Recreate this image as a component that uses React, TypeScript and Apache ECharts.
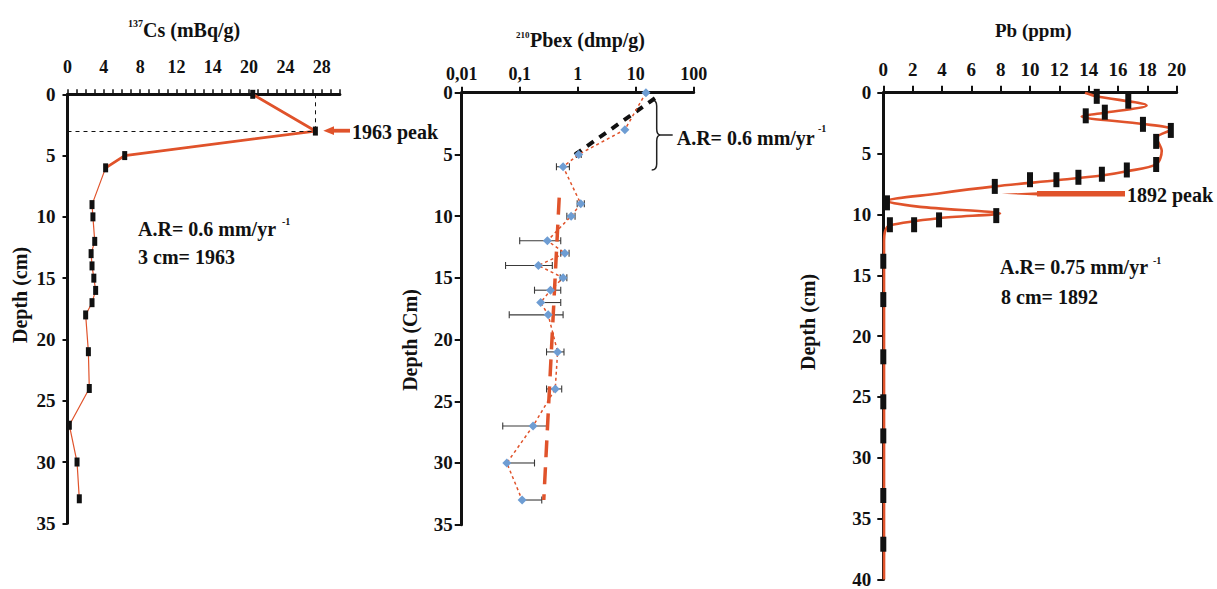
import React, { useEffect, useRef } from "react";
import * as echarts from "echarts";

// ---------- Panel 1 : 137Cs ----------
const csDepth = [0, 3, 5, 6, 9, 10, 12, 13, 14, 15, 16, 17, 18, 21, 24, 27, 30, 33];
const csValue = [20.4, 27.3, 6.3, 4.2, 2.7, 2.8, 3.0, 2.6, 2.7, 2.9, 3.1, 2.7, 2.0, 2.3, 2.4, 0.2, 1.05, 1.3];
const csTickLabels = ["0", "4", "8", "12", "14", "20", "24", "28"];
const csPeakDepth = 3.05;
const csPeakValue = 27.3;

// ---------- Panel 2 : 210Pbex ----------
const pbDepth = [0, 3, 5, 6, 9, 10, 12, 13, 14, 15, 16, 17, 18, 21, 24, 27, 30, 33];
const pbValue = [15, 6.5, 1.04, 0.56, 1.13, 0.77, 0.3, 0.6, 0.21, 0.56, 0.34, 0.23, 0.31, 0.45, 0.41, 0.17, 0.06, 0.11];
const pbErrLow = [15, 6.5, 0.95, 0.43, 0.98, 0.65, 0.1, 0.51, 0.057, 0.5, 0.18, 0.23, 0.066, 0.29, 0.29, 0.051, 0.06, 0.11];
const pbErrHigh = [15, 6.5, 1.15, 0.72, 1.3, 0.9, 0.51, 0.71, 0.365, 0.65, 0.51, 0.51, 0.56, 0.58, 0.53, 0.29, 0.18, 0.24];
const pbLogTickLabels = ["0,01", "0,1", "1", "10", "100"];
const fitUpperValue = [21.5, 0.735];
const fitUpperDepth = [0.45, 5.3];
const fitLowerValue = [0.48, 0.26];
const fitLowerDepth = [8.5, 33];

// ---------- Panel 3 : Pb ----------
const leadDepth = [0.3, 0.7, 1.6, 1.9, 2.6, 3.1, 4.0, 5.9, 6.35, 6.7, 6.95, 7.15, 7.15, 7.7, 9.05, 10.1, 10.45, 10.85, 10.85, 13.85, 17, 21.7, 25.4, 28.2, 33.1, 37.1];
const leadValue = [14.55, 16.7, 15.1, 13.8, 17.7, 19.6, 18.6, 18.6, 16.6, 14.9, 13.3, 11.8, 10.0, 7.6, 0.25, 7.7, 3.8, 2.1, 0.45, 0, 0, 0, 0, 0, 0, 0];
const leadCurveDepth = [0, 0.3, 1.05, 1.67, 1.95, 2.57, 3.02, 3.7, 4.78, 5.86, 6.46, 6.81, 7.2, 7.7, 8.3, 8.9, 9.38, 9.92, 10.3, 10.9, 11.4, 12.4, 40];
const leadCurveValue = [13.75, 14.55, 17.95, 15.0, 13.52, 17.7, 19.66, 18.63, 18.98, 18.63, 16.6, 14.89, 11.82, 7.6, 3.64, 0.23, 2.5, 7.96, 3.87, 0.45, 0.12, 0.05, 0.05];

const RED = "#E0532B";
const BLUE = "#6E9DD3";
const INK = "#111111";
const FAMILY = "Liberation Serif";

const font = (size: number) => `bold ${size}px ${FAMILY}`;

function txt(x: number, y: number, text: string, size: number, extra: any = {}) {
  return {
    type: "text",
    x,
    y,
    silent: true,
    ...extra,
    style: {
      text,
      font: font(size),
      fill: INK,
      align: "left",
      verticalAlign: "middle",
      textAlign: "left",
      textVerticalAlign: "middle",
      ...(extra.style || {}),
    },
  };
}

function depthLabel(x: number, y: number, text: string) {
  return {
    type: "text",
    x,
    y,
    rotation: Math.PI / 2,
    silent: true,
    style: {
      text,
      font: font(20),
      fill: INK,
      align: "center",
      verticalAlign: "middle",
      textAlign: "center",
      textVerticalAlign: "middle",
    },
  };
}

export default function App() {
  const ref = useRef<HTMLDivElement>(null);

  useEffect(() => {
    if (!ref.current) return;
    try {
      echarts.graphic.registerShape(
        "brace",
        echarts.graphic.extendPath(
          "M0,0 C4,0 5,2 5,6 L5,29 C5,33 6,35 9,35 C6,35 5,37 5,41 L5,64 C5,68 4,70 0,70 M9,35 L21,35",
          {}
        )
      );
    } catch (e) {
      /* already registered */
    }
    const chart = echarts.init(ref.current, null, { renderer: "svg" });

    const axisLine = { show: true, onZero: false, lineStyle: { color: INK, width: 3 } };
    const labelBase = { fontFamily: FAMILY, fontWeight: "bold", color: INK };

    const option: any = {
      animation: false,
      backgroundColor: "#ffffff",
      textStyle: { fontFamily: FAMILY },
      grid: [
        { left: 67.5, top: 94.3, width: 272.4, height: 429 },
        { left: 461.7, top: 92.7, width: 232, height: 432 },
        { left: 883.3, top: 92.7, width: 293.4, height: 493 },
      ],
      xAxis: [
        {
          gridIndex: 0,
          type: "value",
          position: "top",
          min: 0,
          max: 30,
          interval: 1,
          axisLine,
          axisTick: { show: true, length: 5, lineStyle: { color: INK, width: 1.5 } },
          axisLabel: {
            ...labelBase,
            fontSize: 18,
            margin: 18,
            formatter: (v: number) => (v % 4 === 0 ? csTickLabels[v / 4] ?? "" : ""),
          },
          splitLine: { show: false },
        },
        {
          gridIndex: 1,
          type: "log",
          logBase: 10,
          position: "top",
          min: 0.01,
          max: 100,
          axisLine,
          axisTick: { show: true, length: 6, lineStyle: { color: INK, width: 2 } },
          axisLabel: {
            ...labelBase,
            fontSize: 18,
            margin: 10,
            formatter: (v: number) => pbLogTickLabels[Math.round(Math.log10(v)) + 2] ?? "",
          },
          splitLine: { show: false },
          minorTick: { show: false },
        },
        {
          gridIndex: 2,
          type: "value",
          position: "top",
          min: 0,
          max: 20,
          interval: 2,
          axisLine,
          axisTick: { show: true, length: 7, lineStyle: { color: INK, width: 2 } },
          axisLabel: { ...labelBase, fontSize: 19, margin: 14 },
          splitLine: { show: false },
        },
      ],
      yAxis: [
        {
          gridIndex: 0,
          type: "value",
          inverse: true,
          min: 0,
          max: 35,
          interval: 5,
          axisLine,
          axisTick: { show: true, length: 5, lineStyle: { color: INK, width: 2 } },
          axisLabel: { ...labelBase, fontSize: 19, margin: 12 },
          splitLine: { show: false },
        },
        {
          gridIndex: 1,
          type: "value",
          inverse: true,
          min: 0,
          max: 35,
          interval: 5,
          axisLine,
          axisTick: { show: true, length: 7, lineStyle: { color: INK, width: 2 } },
          axisLabel: { ...labelBase, fontSize: 19, margin: 9 },
          splitLine: { show: false },
        },
        {
          gridIndex: 2,
          type: "value",
          inverse: true,
          min: 0,
          max: 40,
          interval: 5,
          axisLine,
          axisTick: { show: true, length: 6, lineStyle: { color: INK, width: 2 } },
          axisLabel: { ...labelBase, fontSize: 19, margin: 12 },
          splitLine: { show: false },
        },
      ],
      series: [
        // ---- Cs ----
        {
          type: "line",
          xAxisIndex: 0,
          yAxisIndex: 0,
          data: csDepth.slice(0, 4).map((d, i) => [csValue[i], d]),
          symbol: "none",
          lineStyle: { color: RED, width: 2.8 },
          z: 2,
        },
        {
          type: "line",
          xAxisIndex: 0,
          yAxisIndex: 0,
          data: csDepth.map((d, i) => [csValue[i], d]),
          symbol: "rect",
          symbolSize: [5, 9],
          itemStyle: { color: INK, opacity: 1 },
          lineStyle: { color: RED, width: 1.2 },
          z: 3,
          markLine: {
            silent: true,
            symbol: "none",
            animation: false,
            label: { show: false },
            lineStyle: { color: INK, width: 1, type: [4, 4] },
            data: [
              [{ coord: [0, csPeakDepth] }, { coord: [csPeakValue, csPeakDepth] }],
              [{ coord: [csPeakValue, 0] }, { coord: [csPeakValue, csPeakDepth] }],
            ],
          },
        },
        // ---- 210Pbex ----
        {
          type: "custom",
          xAxisIndex: 1,
          yAxisIndex: 1,
          data: pbDepth.map((d, i) => [pbErrLow[i], pbErrHigh[i], d, pbValue[i]]),
          encode: { x: [0, 1], y: 2 },
          z: 2,
          renderItem: (params: any, api: any) => {
            const lo = api.value(0);
            const hi = api.value(1);
            const d = api.value(2);
            const v = api.value(3);
            if (hi - lo <= 0) return { type: "group", children: [] };
            const p0 = api.coord([lo, d]);
            const p1 = api.coord([hi, d]);
            const st = { stroke: "#3a3a3a", lineWidth: 1.1 };
            const children: any[] = [
              { type: "line", shape: { x1: p0[0], y1: p0[1], x2: p1[0], y2: p1[1] }, style: st },
            ];
            if (lo < v) children.push({ type: "line", shape: { x1: p0[0], y1: p0[1] - 3.5, x2: p0[0], y2: p0[1] + 3.5 }, style: st });
            if (hi > v) children.push({ type: "line", shape: { x1: p1[0], y1: p1[1] - 3.5, x2: p1[0], y2: p1[1] + 3.5 }, style: st });
            return { type: "group", children };
          },
        },
        {
          type: "line",
          xAxisIndex: 1,
          yAxisIndex: 1,
          data: fitUpperDepth.map((d, i) => [fitUpperValue[i], d]),
          symbol: "none",
          lineStyle: { color: INK, width: 4, type: [8, 7] },
          z: 3,
        },
        {
          type: "line",
          xAxisIndex: 1,
          yAxisIndex: 1,
          data: fitLowerDepth.map((d, i) => [fitLowerValue[i], d]),
          symbol: "none",
          lineStyle: { color: RED, width: 3.5, type: [17, 10] },
          z: 3,
        },
        {
          type: "line",
          xAxisIndex: 1,
          yAxisIndex: 1,
          data: pbDepth.map((d, i) => [pbValue[i], d]),
          symbol: "diamond",
          symbolSize: 9,
          itemStyle: { color: BLUE, opacity: 1 },
          lineStyle: { color: RED, width: 1.5, type: [3, 3] },
          z: 4,
        },
        // ---- Pb ----
        {
          type: "line",
          xAxisIndex: 2,
          yAxisIndex: 2,
          data: leadCurveDepth.map((d, i) => [leadCurveValue[i], d]),
          symbol: "none",
          smooth: 0.3,
          lineStyle: { color: RED, width: 2.6 },
          z: 2,
        },
        {
          type: "scatter",
          xAxisIndex: 2,
          yAxisIndex: 2,
          data: leadDepth.map((d, i) => [leadValue[i], d]),
          symbol: "rect",
          symbolSize: [6, 15],
          itemStyle: { color: INK, opacity: 1 },
          z: 3,
        },
      ],
      graphic: [
        // titles
        txt(128, 23, "137", 10),
        txt(143, 30, "Cs (mBq/g)", 20),
        txt(516, 35, "210", 9),
        txt(530, 40, "Pbex (dmp/g)", 20),
        txt(995, 30, "Pb (ppm)", 19),
        // depth labels
        depthLabel(20, 295, "Depth (cm)"),
        depthLabel(410, 340, "Depth (Cm)"),
        depthLabel(808, 322, "Depth (cm)"),
        // panel 1 annotations
        txt(138, 229.3, "A.R= 0.6 mm/yr", 20),
        txt(282, 221, "-1", 10),
        txt(138, 256.7, "3 cm= 1963", 20),
        { type: "polygon", silent: true, shape: { points: [[323.3, 130.7], [334, 126.3], [334, 135.1]] }, style: { fill: RED } },
        { type: "rect", silent: true, shape: { x: 333, y: 128.8, width: 17, height: 3.8 }, style: { fill: RED } },
        txt(352, 131.7, "1963 peak", 20),
        // panel 2 annotations
        { type: "brace", x: 651.7, y: 100, silent: true, style: { stroke: "#222", lineWidth: 1.5, fill: "none" } },
        txt(676.7, 138.3, "A.R= 0.6 mm/yr", 20),
        txt(818, 128, "-1", 10),
        // panel 3 annotations
        { type: "polygon", silent: true, shape: { points: [[1001.7, 193.8], [1038, 192.2], [1038, 195.4]] }, style: { fill: RED } },
        { type: "rect", silent: true, shape: { x: 1037, y: 191, width: 88, height: 5.6 }, style: { fill: RED } },
        txt(1127, 195, "1892 peak", 20),
        txt(1000, 266.7, "A.R= 0.75 mm/yr", 20),
        txt(1153, 260, "-1", 10),
        txt(1001, 296.7, "8 cm= 1892", 20),
      ],
    };

    chart.setOption(option);
    return () => chart.dispose();
  }, []);

  return (
    <div
      ref={ref}
      style={{ position: "fixed", left: 0, top: 0, width: 1217, height: 589, background: "#ffffff" }}
    />
  );
}
